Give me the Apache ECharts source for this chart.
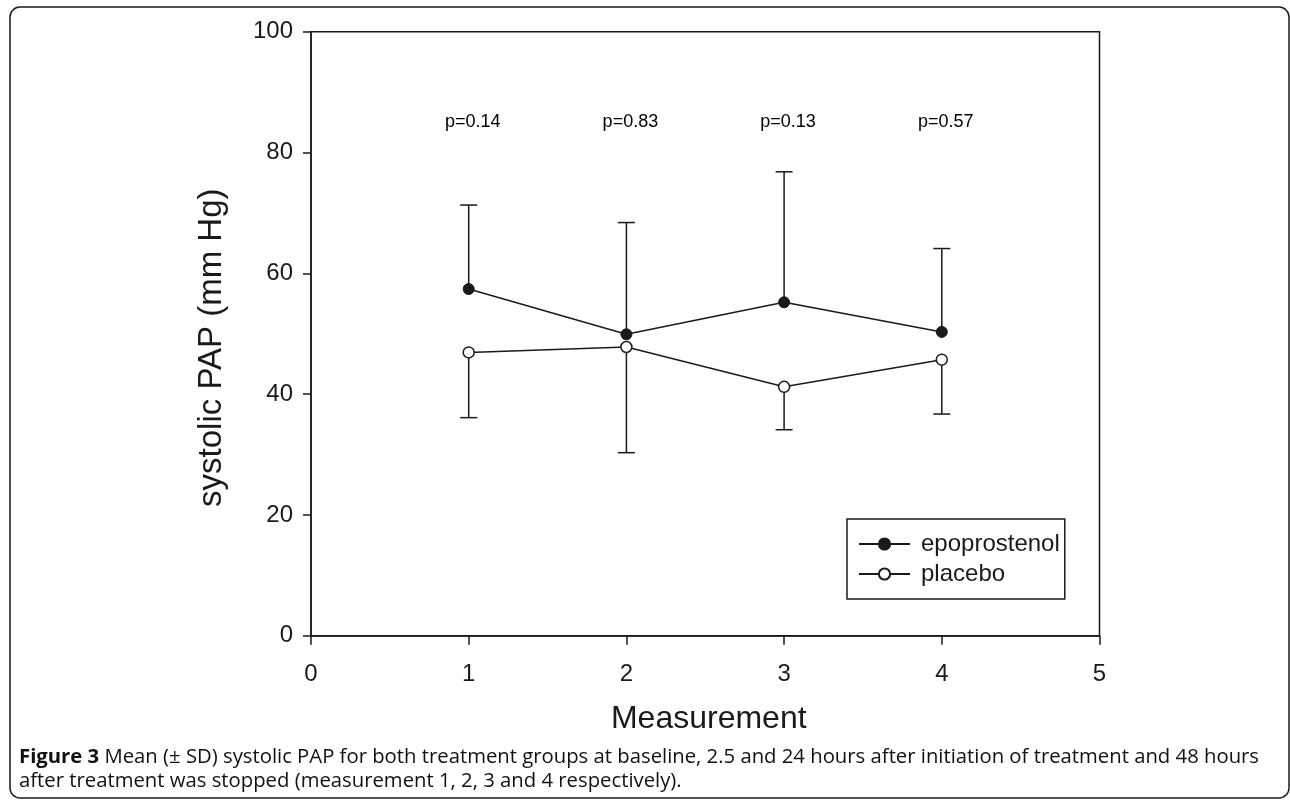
<!DOCTYPE html>
<html>
<head>
<meta charset="utf-8">
<script src="https://cdn.jsdelivr.net/npm/echarts@6/dist/echarts.min.js"></script>
<style>
  html, body { margin:0; padding:0; background:#fff; }
  #chart { width:1290px; height:801px; }
</style>
</head>
<body>
<div id="chart"></div>
<script>
// data
const measurements = [1, 2, 3, 4];
const epoMean = [57.4, 49.9, 55.2, 50.3];
const epoSD = [13.9, 18.5, 21.6, 13.8];
const placeboMean = [46.9, 47.8, 41.2, 45.7];
const placeboSD = [10.8, 17.5, 7.1, 9.0];
const pLabels = ["p=0.14", "p=0.83", "p=0.13", "p=0.57"];
const pLabelY = 85;
const xTicks = [0, 1, 2, 3, 4, 5];
const yTicks = [0, 20, 40, 60, 80, 100];

const ink = "#1a1a1a";
const axisFont = "Liberation Sans";

// error bars: epoprostenol up, placebo down
const epoBars = measurements.map((m, i) => [m, epoMean[i], +(epoMean[i] + epoSD[i]).toFixed(1)]);
const placeboBars = measurements.map((m, i) => [m, placeboMean[i], +(placeboMean[i] - placeboSD[i]).toFixed(1)]);

function errorBar(params, api) {
  const a = api.coord([api.value(0), api.value(1)]);
  const b = api.coord([api.value(0), api.value(2)]);
  const half = 8.5;
  const st = { stroke: ink, lineWidth: 1.5 };
  return {
    type: "group",
    children: [
      { type: "line", shape: { x1: a[0], y1: a[1], x2: b[0], y2: b[1] }, style: st },
      { type: "line", shape: { x1: b[0] - half, y1: b[1], x2: b[0] + half, y2: b[1] }, style: st }
    ]
  };
}

// p-value text above each measurement
function pText(params, api) {
  const c = api.coord([api.value(0), api.value(1)]);
  return {
    type: "text",
    x: c[0] + 4, y: c[1],
    style: {
      text: pLabels[params.dataIndex],
      align: "center", verticalAlign: "middle",
      fontFamily: axisFont, fontSize: 18, fill: "#000"
    }
  };
}

const chart = echarts.init(document.getElementById("chart"));

chart.setOption({
  animation: false,
  grid: {
    left: 311, right: 190.5, top: 31.7, bottom: 165.3,
    show: true, borderColor: ink, borderWidth: 1.5
  },
  xAxis: {
    type: "value", min: xTicks[0], max: xTicks[xTicks.length - 1], interval: 1,
    name: "Measurement", nameLocation: "middle", nameGap: 67,
    nameTextStyle: { fontFamily: axisFont, fontSize: 32, color: ink, padding: [0, 0, 0, 7] },
    axisLine: { show: true, lineStyle: { color: ink, width: 1.5 } },
    axisTick: { show: true, inside: false, length: 9, lineStyle: { color: ink, width: 1.5 } },
    axisLabel: { margin: 27, fontFamily: axisFont, fontSize: 24, color: ink },
    splitLine: { show: false }
  },
  yAxis: {
    type: "value", min: yTicks[0], max: yTicks[yTicks.length - 1], interval: 20,
    name: "systolic PAP (mm Hg)", nameLocation: "middle", nameGap: 83,
    nameTextStyle: { fontFamily: axisFont, fontSize: 33, color: ink, padding: [0, 28, 0, 0] },
    axisLine: { show: true, lineStyle: { color: ink, width: 1.5 } },
    axisTick: { show: true, inside: false, length: 8, lineStyle: { color: ink, width: 1.5 } },
    axisLabel: { margin: 18, fontFamily: axisFont, fontSize: 24, color: ink },
    splitLine: { show: false }
  },
  legend: {
    orient: "vertical",
    left: 847, top: 519,
    padding: [13, 5, 13, 11],
    itemGap: 6,
    itemWidth: 51, itemHeight: 14,
    borderColor: ink, borderWidth: 1.5, borderRadius: 0,
    textStyle: { fontFamily: axisFont, fontSize: 24, color: ink, lineHeight: 24, padding: [0, 0, 0, 6] },
    data: ["epoprostenol", "placebo"]
  },
  series: [
    {
      type: "custom", name: "epo-sd", renderItem: errorBar, data: epoBars, z: 1, silent: true
    },
    {
      type: "custom", name: "placebo-sd", renderItem: errorBar, data: placeboBars, z: 1, silent: true
    },
    {
      type: "line", name: "epoprostenol", z: 3,
      data: measurements.map((m, i) => [m, epoMean[i]]),
      symbol: "circle", symbolSize: 11, showAllSymbol: true,
      lineStyle: { color: ink, width: 1.5 },
      itemStyle: { color: ink, borderColor: ink, borderWidth: 1 }
    },
    {
      type: "line", name: "placebo", z: 3,
      data: measurements.map((m, i) => [m, placeboMean[i]]),
      symbol: "circle", symbolSize: 11, showAllSymbol: true,
      lineStyle: { color: ink, width: 1.5 },
      itemStyle: { color: "#fff", borderColor: ink, borderWidth: 1.5 }
    },
    {
      type: "custom", name: "p", silent: true, renderItem: pText,
      data: measurements.map(m => [m, pLabelY])
    }
  ],
  graphic: [
    {
      type: "rect", silent: true, z: -1,
      shape: { x: 10, y: 7, width: 1279, height: 791, r: 10 },
      style: { fill: "none", stroke: ink, lineWidth: 1.5 }
    },
    {
      type: "text", left: 19, top: 747,
      style: {
        text: "{b|Figure 3} Mean (± SD) systolic PAP for both treatment groups at baseline, 2.5 and 24 hours after initiation of treatment and 48 hours",
        fontFamily: "Open Sans", fontSize: 20.3, fill: "#111",
        rich: { b: { fontFamily: "Open Sans", fontSize: 20.3, fontWeight: "bold", fill: "#111" } }
      }
    },
    {
      type: "text", left: 19, top: 771,
      style: {
        text: "after treatment was stopped (measurement 1, 2, 3 and 4 respectively).",
        fontFamily: "Open Sans", fontSize: 20.3, fill: "#111"
      }
    }
  ]
});
</script>
</body>
</html>
